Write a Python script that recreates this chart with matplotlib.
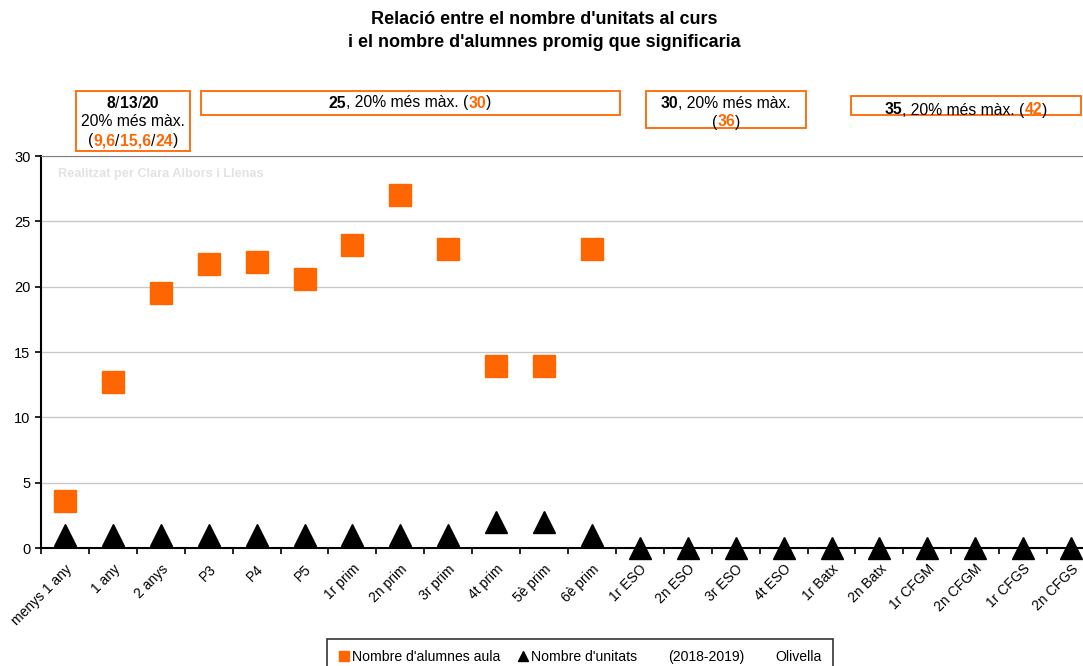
import numpy as np
import matplotlib
matplotlib.use('Agg')
import matplotlib.pyplot as plt
from matplotlib.patches import Rectangle
from matplotlib.lines import Line2D

plt.rcParams['font.family'] = ['Liberation Sans', 'DejaVu Sans']

# Dades
cursos = ['menys 1 any', '1 any', '2 anys', 'P3', 'P4', 'P5', '1r prim', '2n prim',
          '3r prim', '4t prim', '5è prim', '6è prim', '1r ESO', '2n ESO', '3r ESO',
          '4t ESO', '1r Batx', '2n Batx', '1r CFGM', '2n CFGM', '1r CFGS', '2n CFGS']
alumnes = [3.6, 12.7, 19.5, 21.7, 21.9, 20.6, 23.2, 27.0, 22.9, 13.9, 13.9, 22.9] + [np.nan] * 10
unitats = [1, 1, 1, 1, 1, 1, 1, 1, 1, 2, 2, 1] + [0] * 10

TARONJA = '#FF6600'
W, H = 1083, 666

fig = plt.figure(figsize=(W / 100, H / 100), dpi=100)
ax = fig.add_axes([41 / W, 1 - 548 / H, 1054 / W, 392 / H])

x = np.arange(len(cursos))
ax.plot(x, alumnes, 's', color=TARONJA, markersize=16, clip_on=False, zorder=4)
ax.plot(x, unitats, '^', color='black', markersize=16, clip_on=False, zorder=4)

ax.set_xlim(-0.5, len(cursos) - 0.5)
ax.set_ylim(0, 30)
ax.set_yticks(range(0, 31, 5))
ax.set_xticks(x)
ax.set_xticklabels(cursos, rotation=45, ha='right', rotation_mode='anchor', fontsize=10)
ax.set_xticks(np.arange(-0.5, len(cursos), 1), minor=True)
ax.tick_params(axis='x', which='major', length=0, pad=10)
ax.tick_params(axis='x', which='minor', length=4, width=1.2, direction='out')
ax.tick_params(axis='y', length=4, width=1.2, labelsize=10.5)
ax.yaxis.grid(True, color='#c8c8c8', lw=1)
ax.set_axisbelow(True)
ax.spines['right'].set_visible(False)
ax.spines['top'].set_color('#808080')
ax.spines['left'].set_linewidth(1.5)
ax.spines['bottom'].set_linewidth(1.5)

# marca d'aigua
ax.text(0.016, 0.955, 'Realitzat per Clara Albors i Llenas', transform=ax.transAxes,
        fontsize=9.2, fontweight='bold', color='#e2e2e2', va='center', ha='left')

fig.text(0.503, 1 - 31 / H, "Relació entre el nombre d'unitats al curs\ni el nombre d'alumnes promig que significaria",
         ha='center', va='center', fontsize=13, fontweight='bold', linespacing=1.45)

renderer = fig.canvas.get_renderer()


def linia(xc, yc, parts, size=11.3):
    texts = []
    for s, c, w in parts:
        texts.append(fig.text(0, 0, s, color=c, fontweight=w, fontsize=size,
                              ha='left', va='center'))
    widths = [t.get_window_extent(renderer).width for t in texts]
    x0 = xc - sum(widths) / 2
    for t, wd in zip(texts, widths):
        t.set_position((x0 / W, 1 - yc / H))
        x0 += wd


def caixa(x0, y0, x1, y1):
    fig.patches.append(Rectangle((x0 / W, 1 - y1 / H), (x1 - x0) / W, (y1 - y0) / H,
                                 transform=fig.transFigure, fill=False,
                                 edgecolor=TARONJA, lw=1.3))


N, B = 'normal', 'bold'
caixa(76, 91, 190, 151)
linia(133, 103, [('8', 'black', B), ('/', 'black', N), ('13', 'black', B), ('/', 'black', N), ('20', 'black', B)])
linia(133, 122, [('20% més màx.', 'black', N)])
linia(133, 141, [('(', 'black', N), ('9,6', TARONJA, B), ('/', 'black', N), ('15,6', TARONJA, B),
                 ('/', 'black', N), ('24', TARONJA, B), (')', 'black', N)])

caixa(201, 91, 620, 115)
linia(410, 103, [('25', 'black', B), (', 20% més màx. (', 'black', N), ('30', TARONJA, B), (')', 'black', N)])

caixa(646, 91, 806, 128)
linia(726, 103, [('30', 'black', B), (', 20% més màx.', 'black', N)])
linia(726, 122, [('(', 'black', N), ('36', TARONJA, B), (')', 'black', N)])

caixa(851, 96, 1081, 115)
linia(966, 110, [('35', 'black', B), (', 20% més màx. (', 'black', N), ('42', TARONJA, B), (')', 'black', N)])

handles = [Line2D([], [], ls='', marker='s', color=TARONJA, markersize=7),
           Line2D([], [], ls='', marker='^', color='black', markersize=7),
           Line2D([], [], ls='', marker=''),
           Line2D([], [], ls='', marker='')]
labels = ["Nombre d'alumnes aula", "Nombre d'unitats", '(2018-2019)', 'Olivella']
leg = fig.legend(handles, labels, loc='upper center', bbox_to_anchor=(580 / W, 1 - 639 / H),
                 ncol=4, fontsize=10.1, frameon=True, fancybox=False, edgecolor='black',
                 handlelength=0.8, handletextpad=0.2, columnspacing=1.2,
                 borderpad=0.8, borderaxespad=0)
leg.get_frame().set_linewidth(1.2)

fig.savefig('out.png', dpi=100)
